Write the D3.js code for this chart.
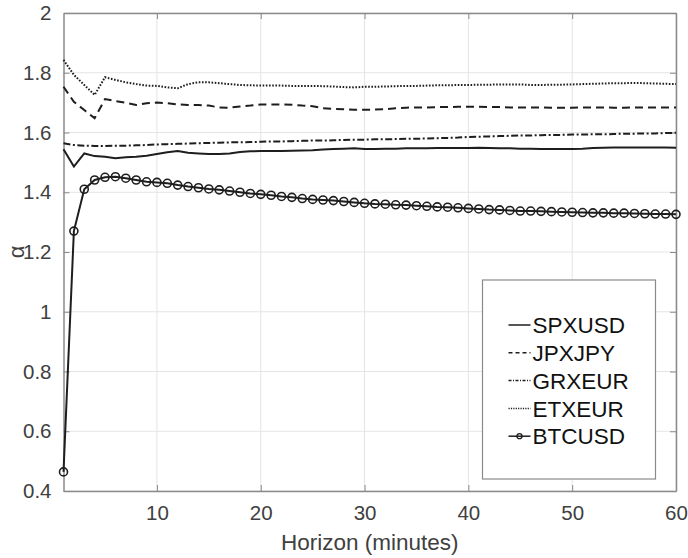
<!DOCTYPE html>
<html>
<head>
<meta charset="utf-8">
<script src="https://cdn.jsdelivr.net/npm/d3@7"></script>
<style>
  body { margin: 0; background: #fff; }
  text { font-family: "Liberation Sans", Arial, sans-serif; }
</style>
</head>
<body>
<svg width="688" height="558"></svg>
<script>
let horizon = d3.range(1, 61);

let spxusd = [1.544, 1.486, 1.530, 1.521, 1.519, 1.514, 1.517, 1.519, 1.522, 1.528,
  1.534, 1.538, 1.532, 1.530, 1.528, 1.528, 1.530, 1.535, 1.537, 1.538,
  1.538, 1.538, 1.539, 1.540, 1.541, 1.543, 1.545, 1.546, 1.547, 1.545,
  1.545, 1.546, 1.546, 1.547, 1.547, 1.547, 1.548, 1.548, 1.548, 1.548,
  1.549, 1.548, 1.547, 1.547, 1.546, 1.546, 1.545, 1.545, 1.545, 1.545,
  1.546, 1.548, 1.549, 1.550, 1.550, 1.550, 1.550, 1.550, 1.550, 1.549];

let jpxjpy = [1.753, 1.703, 1.675, 1.648, 1.712, 1.705, 1.700, 1.692, 1.698, 1.700,
  1.698, 1.694, 1.692, 1.692, 1.690, 1.684, 1.683, 1.687, 1.690, 1.694,
  1.694, 1.694, 1.693, 1.690, 1.688, 1.681, 1.679, 1.678, 1.676, 1.676,
  1.677, 1.678, 1.681, 1.683, 1.684, 1.684, 1.685, 1.685, 1.686, 1.686,
  1.686, 1.685, 1.685, 1.684, 1.684, 1.684, 1.684, 1.683, 1.683, 1.683,
  1.684, 1.684, 1.684, 1.683, 1.683, 1.684, 1.684, 1.684, 1.684, 1.684];

let grxeur = [1.564, 1.558, 1.556, 1.555, 1.555, 1.556, 1.556, 1.557, 1.558, 1.560,
  1.561, 1.562, 1.563, 1.564, 1.565, 1.566, 1.567, 1.567, 1.568, 1.569,
  1.570, 1.570, 1.571, 1.572, 1.573, 1.573, 1.574, 1.575, 1.576, 1.576,
  1.577, 1.577, 1.578, 1.579, 1.579, 1.580, 1.581, 1.582, 1.583, 1.585,
  1.586, 1.587, 1.588, 1.589, 1.590, 1.590, 1.591, 1.592, 1.592, 1.593,
  1.593, 1.594, 1.594, 1.595, 1.596, 1.596, 1.597, 1.597, 1.598, 1.599];

let etxeur = [1.843, 1.793, 1.759, 1.726, 1.785, 1.776, 1.768, 1.762, 1.757, 1.756,
  1.751, 1.748, 1.762, 1.768, 1.768, 1.765, 1.762, 1.759, 1.758, 1.757,
  1.757, 1.757, 1.756, 1.756, 1.756, 1.755, 1.754, 1.752, 1.751, 1.753,
  1.753, 1.754, 1.755, 1.756, 1.756, 1.757, 1.758, 1.758, 1.759, 1.759,
  1.760, 1.760, 1.761, 1.761, 1.761, 1.759, 1.759, 1.760, 1.760, 1.761,
  1.762, 1.763, 1.764, 1.765, 1.765, 1.766, 1.765, 1.764, 1.763, 1.762];

let btcusd = [0.464, 1.270, 1.410, 1.441, 1.450, 1.452, 1.447, 1.441, 1.435, 1.433,
  1.430, 1.424, 1.419, 1.415, 1.411, 1.408, 1.404, 1.400, 1.396, 1.393,
  1.390, 1.386, 1.383, 1.379, 1.376, 1.374, 1.372, 1.369, 1.366, 1.363,
  1.361, 1.360, 1.358, 1.357, 1.355, 1.353, 1.351, 1.350, 1.348, 1.346,
  1.344, 1.342, 1.341, 1.339, 1.337, 1.337, 1.336, 1.335, 1.334, 1.333,
  1.332, 1.331, 1.331, 1.330, 1.330, 1.329, 1.328, 1.327, 1.327, 1.326];

let xTicks = [10, 20, 30, 40, 50, 60];
let yTicks = [0.4, 0.6, 0.8, 1, 1.2, 1.4, 1.6, 1.8, 2];

let seriesNames = ["SPXUSD", "JPXJPY", "GRXEUR", "ETXEUR", "BTCUSD"];
let seriesValues = [spxusd, jpxjpy, grxeur, etxeur, btcusd];
let dashes = [null, "8,5", "7,2.5,2,2.5", "1.6,1.6", null];
let legendDashes = [null, "4,3", "3,1.5,1,1.5", "1.2,1.2", null];

let margin = { top: 13, right: 12, bottom: 67, left: 63.5 };
let width = 688 - margin.left - margin.right;
let height = 558 - margin.top - margin.bottom;
let axisColor = "#8a8a8a";
let textColor = "#404040";
let lineColor = "#1e1e1e";

let svg = d3.select("svg");
let g = svg.append("g")
  .attr("transform", "translate(" + margin.left + "," + margin.top + ")");

let x = d3.scaleLinear().domain([1, 60]).range([0, width]);
let y = d3.scaleLinear().domain([0.4, 2]).range([height, 0]);

// grid
g.append("g").selectAll("line").data(xTicks).enter().append("line")
  .attr("x1", d => x(d)).attr("x2", d => x(d))
  .attr("y1", 0).attr("y2", height)
  .attr("stroke", "#e4e4e4");
g.append("g").selectAll("line").data(yTicks).enter().append("line")
  .attr("x1", 0).attr("x2", width)
  .attr("y1", d => y(d)).attr("y2", d => y(d))
  .attr("stroke", "#e4e4e4");

// axes (ticks inward, box)
let xAxis = g.append("g").attr("transform", "translate(0," + height + ")")
  .call(d3.axisBottom(x).tickValues(xTicks).tickSizeInner(-6).tickSizeOuter(0).tickPadding(14));
let xTop = g.append("g")
  .call(d3.axisTop(x).tickValues(xTicks).tickSizeInner(-6).tickSizeOuter(0).tickFormat(""));
let yAxis = g.append("g")
  .call(d3.axisLeft(y).tickValues(yTicks).tickSizeInner(-6).tickSizeOuter(0).tickPadding(12).tickFormat(d3.format("")));
let yRight = g.append("g").attr("transform", "translate(" + width + ",0)")
  .call(d3.axisRight(y).tickValues(yTicks).tickSizeInner(-6).tickSizeOuter(0).tickFormat(""));

[xAxis, xTop, yAxis, yRight].forEach(a => {
  a.select(".domain").attr("stroke", axisColor).attr("stroke-width", 1.5);
  a.selectAll(".tick line").attr("stroke", axisColor);
  a.selectAll(".tick text").attr("fill", textColor).style("font-size", "20.5px");
});

// lines
let line = d3.line().x((d, i) => x(horizon[i])).y(d => y(d));
let plot = g.append("g");
seriesValues.forEach((vals, k) => {
  plot.append("path")
    .datum(vals)
    .attr("d", line)
    .attr("fill", "none")
    .attr("stroke", lineColor)
    .attr("stroke-width", 2)
    .attr("stroke-dasharray", dashes[k]);
});

plot.selectAll(".mk").data(btcusd).enter().append("circle")
  .attr("class", "mk")
  .attr("cx", (d, i) => x(horizon[i]))
  .attr("cy", d => y(d))
  .attr("r", 4)
  .attr("fill", "none")
  .attr("stroke", lineColor)
  .attr("stroke-width", 1.6);

// legend
let leg = g.append("g").attr("transform", "translate(" + (482.5 - margin.left) + "," + (280 - margin.top) + ")");
leg.append("rect")
  .attr("width", 173).attr("height", 199)
  .attr("fill", "#fff").attr("stroke", axisColor).attr("stroke-width", 1.2);

seriesNames.forEach((name, k) => {
  let row = leg.append("g").attr("transform", "translate(0," + (45 + k * 27.8) + ")");
  row.append("line")
    .attr("x1", 26).attr("x2", 48)
    .attr("stroke", lineColor).attr("stroke-width", 1.5)
    .attr("stroke-dasharray", legendDashes[k]);
  if (name === "BTCUSD") {
    row.append("circle").attr("cx", 37).attr("r", 2.5)
      .attr("fill", "none").attr("stroke", lineColor).attr("stroke-width", 1.3);
  }
  row.append("text")
    .attr("x", 50).attr("dy", "0.36em")
    .attr("fill", "#111")
    .style("font-size", "22.5px")
    .text(name);
});

// axis labels
g.append("text")
  .attr("x", width / 2).attr("y", height + 59)
  .attr("text-anchor", "middle")
  .attr("fill", textColor)
  .style("font-size", "22.5px")
  .text("Horizon (minutes)");

g.append("text")
  .attr("transform", "translate(" + (-40) + "," + (height / 2) + ") rotate(-90)")
  .attr("text-anchor", "middle")
  .attr("fill", textColor)
  .style("font-size", "22px")
  .text("α");
</script>
</body>
</html>
